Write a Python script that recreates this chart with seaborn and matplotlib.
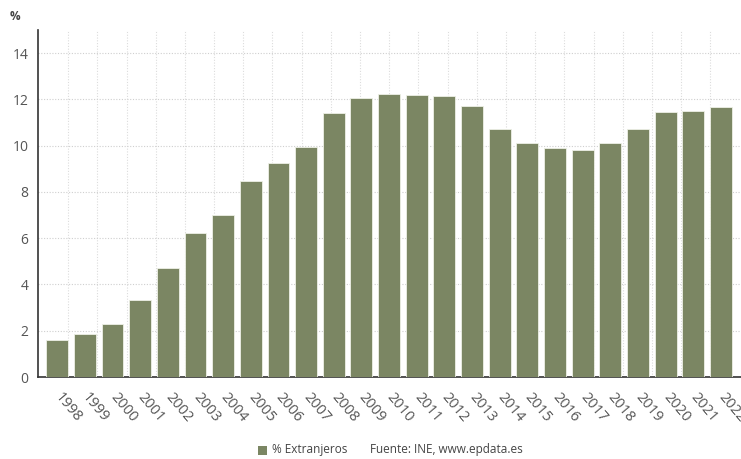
import numpy as np
import pandas as pd
import matplotlib
matplotlib.use("Agg")
import matplotlib.pyplot as plt
from matplotlib.ticker import FixedLocator
from matplotlib.patches import Rectangle
import seaborn as sns

years = [str(y) for y in range(1998, 2023)]
pct_foreign = [1.60, 1.86, 2.28, 3.33, 4.73, 6.24, 7.02, 8.46, 9.27, 9.96,
               11.41, 12.08, 12.22, 12.19, 12.14, 11.70, 10.74, 10.13, 9.92,
               9.80, 10.10, 10.70, 11.45, 11.50, 11.67]
y_ticks = [0, 2, 4, 6, 8, 10, 12, 14]

df = pd.DataFrame({"year": years, "pct": pct_foreign})

sns.set_theme(style="white")
plt.rcParams["font.family"] = ["Open Sans", "DejaVu Sans"]

bar_color = "#7b8663"
text_color = "#555555"

fig = plt.figure(figsize=(7.41, 4.59), dpi=100)
ax = fig.add_axes([0.0513, 0.1786, 0.9487, 0.756])

sns.barplot(data=df, x="year", y="pct", color=bar_color, width=0.79,
            saturation=1, edgecolor="#eef0e6", linewidth=0.6, ax=ax, zorder=3)

ax.set_ylim(0, 15)
ax.set_xlim(-0.69, len(years) - 1 + 0.72)
ax.set_yticks(y_ticks)
ax.set_yticklabels([str(t) for t in y_ticks], color=text_color, fontsize=10)
ax.set_xticks(range(len(years)))
ax.set_xticklabels(years, rotation=-50, ha="left", va="center", rotation_mode="anchor",
                   color=text_color, fontsize=10.5)
ax.set_xlabel("")
ax.set_ylabel("")

# dotted background grid
ax.xaxis.set_minor_locator(FixedLocator(0.398 + 1.0553 * np.arange(23)))
ax.grid(axis="y", which="major", color="#cfcfcf", linestyle=(0, (1, 1.5)), linewidth=0.8, zorder=0)
ax.grid(axis="x", which="minor", color="#dcdcdc", linestyle=(0, (1, 1.5)), linewidth=0.8, zorder=0)
ax.grid(axis="x", which="major", visible=False)
ax.set_axisbelow(True)

for side in ["top", "right"]:
    ax.spines[side].set_visible(False)
for side in ["left", "bottom"]:
    ax.spines[side].set_color("#333333")
    ax.spines[side].set_linewidth(1.2)

ax.tick_params(axis="y", which="major", length=3, width=1, color="#444444", direction="out", pad=4)
ax.tick_params(axis="x", which="major", length=4, width=0.8, color="#666666", direction="out", pad=9)
ax.tick_params(axis="x", which="minor", length=0)

fig.text(0.013, 0.963, "%", fontsize=8.5, fontweight="bold", color="#444444", va="center")

# legend / source line
fig.patches.append(Rectangle((258 / 741, 1 - 455 / 459), 9 / 741, 9 / 459,
                             transform=fig.transFigure, facecolor=bar_color,
                             edgecolor="none"))
fig.text(272 / 741, 1 - 450 / 459, "% Extranjeros", fontsize=8.5, color="#444444", va="center")
fig.text(370 / 741, 1 - 450 / 459, "Fuente: INE, www.epdata.es", fontsize=8.5, color="#444444", va="center")

fig.savefig("out.png", dpi=100)
